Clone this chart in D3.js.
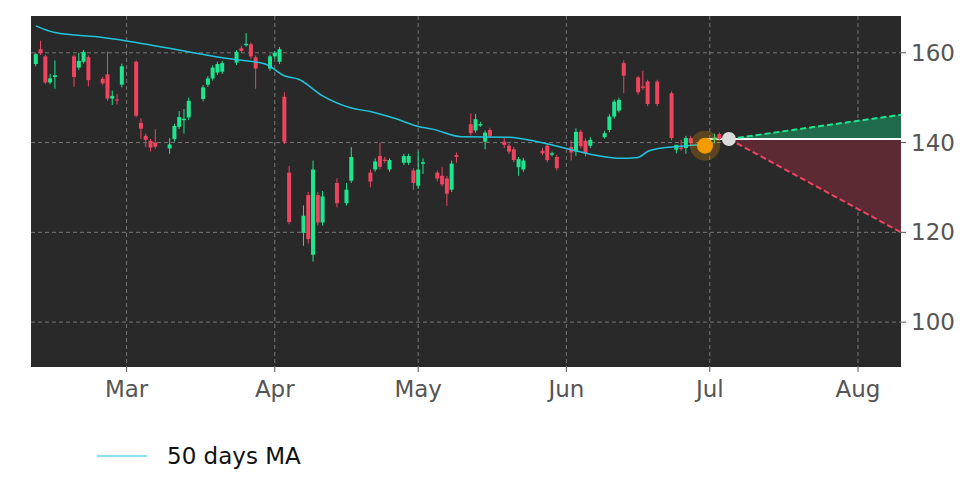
<!DOCTYPE html>
<html>
<head>
<meta charset="utf-8">
<script src="https://cdn.jsdelivr.net/npm/d3@7"></script>
<style>
  body { margin: 0; background: #fff; }
  text { font-family: "DejaVu Sans", sans-serif; }
</style>
</head>
<body>
<svg id="chart" width="972" height="486"></svg>
<script>
//candle data//
var dates = ["2022-02-10","2022-02-11","2022-02-12","2022-02-13","2022-02-14","2022-02-18","2022-02-19","2022-02-20","2022-02-21",
  "2022-02-24","2022-02-25","2022-02-26","2022-02-27","2022-02-28","2022-03-03","2022-03-04","2022-03-05","2022-03-06","2022-03-07",
  "2022-03-10","2022-03-11","2022-03-12","2022-03-13","2022-03-14","2022-03-17","2022-03-18","2022-03-19","2022-03-20","2022-03-21",
  "2022-03-24","2022-03-25","2022-03-26","2022-03-27","2022-03-28","2022-03-31","2022-04-01","2022-04-02","2022-04-03","2022-04-04",
  "2022-04-07","2022-04-08","2022-04-09","2022-04-10","2022-04-11","2022-04-14","2022-04-16","2022-04-17",
  "2022-04-21","2022-04-22","2022-04-23","2022-04-24","2022-04-25","2022-04-28","2022-04-29","2022-04-30","2022-05-01","2022-05-02",
  "2022-05-05","2022-05-06","2022-05-07","2022-05-08","2022-05-09","2022-05-12","2022-05-13","2022-05-14","2022-05-15","2022-05-16",
  "2022-05-19","2022-05-20","2022-05-21","2022-05-22","2022-05-23","2022-05-27","2022-05-28","2022-05-29","2022-05-30",
  "2022-06-02","2022-06-03","2022-06-04","2022-06-05","2022-06-06","2022-06-09","2022-06-10","2022-06-11","2022-06-12","2022-06-13",
  "2022-06-16","2022-06-17","2022-06-18","2022-06-20","2022-06-23","2022-06-24","2022-06-25","2022-06-26","2022-06-27",
  "2022-06-30","2022-07-02","2022-07-03"];
var opens = [157.5,160.8,159.2,153.4,154.6,159.2,156.7,158.0,159.0,
  154.2,155.2,149.8,149.6,152.9,158.0,144.4,141.5,140.4,140.0,
  138.7,140.8,143.5,145.0,145.6,149.7,152.9,154.3,155.6,155.8,
  157.8,161.0,161.7,161.9,159.0,156.5,159.2,158.0,150.2,133.3,
  119.9,128.3,115.0,128.3,122.2,131.0,126.5,131.5,
  133.3,134.0,137.0,136.2,134.0,135.5,135.5,133.8,130.4,135.3,
  133.3,132.6,132.0,129.5,137.2,144.1,142.7,143.8,140.2,142.8,
  140.2,139.3,138.5,134.5,134.0,138.2,139.3,137.3,136.8,
  139.0,138.0,142.4,140.4,139.3,141.2,142.8,145.8,147.1,157.7,
  154.5,152.5,153.6,153.6,151.0,138.4,138.9,138.8,141.0,
  138.8,140.6,141.9];
var closes = [159.7,159.9,153.4,154.3,155.0,154.6,158.2,160.2,153.9,
  153.2,149.8,150.4,149.4,157.0,146.0,143.1,140.6,138.9,139.1,
  139.6,143.7,145.7,145.3,149.3,152.3,154.3,156.7,157.5,157.7,
  160.2,160.4,162.0,159.2,156.5,159.2,160.0,160.8,140.2,122.3,
  123.7,118.5,134.0,122.2,128.0,126.5,129.5,136.8,
  131.3,135.8,134.6,135.9,136.1,137.0,137.0,131.0,134.0,135.6,
  132.0,130.7,128.6,135.3,136.8,142.1,145.2,144.1,142.2,141.5,
  139.5,138.0,136.1,136.3,136.0,137.6,136.1,137.6,134.3,
  137.8,142.4,139.2,137.5,140.6,142.1,145.8,149.1,149.5,154.9,
  151.2,152.2,148.6,148.6,141.0,139.5,138.6,141.0,139.9,
  139.6,141.1,140.8];
var highs = [160.0,162.7,159.6,155.3,158.3,159.6,160.0,160.6,159.4,
  154.6,160.3,151.6,150.8,157.6,158.3,145.4,142.0,140.8,143.0,
  141.0,144.2,147.0,147.5,150.0,152.8,154.8,157.2,158.0,158.2,
  160.6,161.6,164.4,162.3,159.4,159.6,160.4,161.3,151.2,134.8,
  126.0,129.0,136.0,129.0,129.2,132.0,131.0,139.0,
  134.0,136.5,140.0,136.8,136.5,137.5,137.5,134.3,138.0,136.5,
  133.8,134.5,132.6,136.0,137.8,146.5,146.4,144.6,142.7,143.3,
  141.0,139.8,139.0,136.8,136.6,138.8,139.9,138.0,137.3,
  140.5,143.2,142.9,140.9,141.2,142.6,146.3,149.6,150.0,158.3,
  154.9,156.0,154.0,154.0,151.4,139.5,140.6,141.5,141.5,
  141.0,142.0,142.3];
var lows = [157.0,159.5,153.0,153.0,152.0,152.4,156.2,157.6,152.5,
  152.8,149.3,148.4,148.5,152.3,145.6,140.8,139.0,138.0,138.6,
  137.5,140.2,143.0,142.0,145.0,149.2,152.4,153.8,155.1,155.3,
  157.3,160.0,161.4,158.7,152.0,156.0,158.7,157.5,139.7,121.8,
  117.0,117.5,113.5,121.5,121.5,125.6,126.0,131.0,
  130.0,133.5,134.0,135.5,133.5,135.0,135.0,129.5,129.7,133.0,
  131.4,130.2,125.9,129.0,135.5,141.6,142.2,143.5,138.5,141.0,
  138.8,137.4,135.6,132.6,133.5,137.2,135.6,136.9,133.8,
  136.0,137.0,138.7,136.9,138.8,140.9,142.3,145.3,146.7,151.0,
  150.7,151.7,148.1,148.1,140.5,137.6,138.2,137.5,139.4,
  138.2,139.8,140.3];

//50 days moving average//
var maDates = ["2022-02-10","2022-02-14","2022-02-24","2022-03-03","2022-03-13","2022-03-23","2022-03-30","2022-04-03",
  "2022-04-06","2022-04-11","2022-04-17","2022-04-21","2022-04-26","2022-05-01","2022-05-04","2022-05-10","2022-05-20",
  "2022-05-26","2022-06-01","2022-06-08","2022-06-12","2022-06-16","2022-06-18","2022-06-21","2022-06-24","2022-06-29"];
var maValues = [166.0,164.5,163.4,162.3,160.4,158.6,157.5,154.9,154.1,150.4,147.7,146.9,145.4,143.6,143.0,141.3,141.2,
  140.2,138.7,137.0,136.5,136.7,138.0,138.8,139.1,139.5];

//last close, forecast start and the two targets//
var lastDate = "2022-06-30", lastValue = 139.3;
var startDate = "2022-07-05", startValue = 140.8;
var endDate = "2022-08-10", upValue = 146.2, downValue = 120.0;

var yTicks = [100, 120, 140, 160];
var monthTicks = ["2022-03-01","2022-04-01","2022-05-01","2022-06-01","2022-07-01","2022-08-01"];
var monthLabels = ["Mar","Apr","May","Jun","Jul","Aug"];

var parse = d3.timeParse("%Y-%m-%d");
var pLeft = 31, pRight = 901, pTop = 16, pBottom = 367;
var green = "#1ee68e", red = "#ef4460";

var x = d3.scaleTime()
  .domain([parse("2022-02-09"), parse("2022-08-10")])
  .range([pLeft, pRight]);
var y = d3.scaleLinear().domain([90, 168.2]).range([pBottom, pTop]);

var svg = d3.select("#chart");

svg.append("rect")
  .attr("x", pLeft).attr("y", pTop)
  .attr("width", pRight - pLeft).attr("height", pBottom - pTop)
  .attr("fill", "#292929");

//grid//
svg.selectAll(".hgrid").data(yTicks).enter().append("line")
  .attr("x1", pLeft).attr("x2", pRight)
  .attr("y1", function(d) { return y(d); }).attr("y2", function(d) { return y(d); })
  .attr("stroke", "#8a8a8a").attr("stroke-width", 0.8).attr("stroke-dasharray", "4,3");
svg.selectAll(".vgrid").data(monthTicks).enter().append("line")
  .attr("y1", pTop).attr("y2", pBottom)
  .attr("x1", function(d) { return x(parse(d)); }).attr("x2", function(d) { return x(parse(d)); })
  .attr("stroke", "#8a8a8a").attr("stroke-width", 0.8).attr("stroke-dasharray", "4,3");

//axes labels//
svg.selectAll(".ylab").data(yTicks).enter().append("text")
  .attr("x", 911).attr("y", function(d) { return y(d) + 8; })
  .attr("font-size", "23px").attr("fill", "#555")
  .text(function(d) { return d; });
svg.selectAll(".ytick").data(yTicks).enter().append("line")
  .attr("x1", pRight).attr("x2", pRight + 5)
  .attr("y1", function(d) { return y(d); }).attr("y2", function(d) { return y(d); })
  .attr("stroke", "#555");
svg.selectAll(".xlab").data(monthTicks).enter().append("text")
  .attr("x", function(d) { return x(parse(d)); }).attr("y", 397)
  .attr("text-anchor", "middle").attr("font-size", "23px").attr("fill", "#555")
  .text(function(d, i) { return monthLabels[i]; });
svg.selectAll(".xtick").data(monthTicks).enter().append("line")
  .attr("y1", pBottom).attr("y2", pBottom + 5)
  .attr("x1", function(d) { return x(parse(d)); }).attr("x2", function(d) { return x(parse(d)); })
  .attr("stroke", "#555");

//forecast areas//
var x0 = x(parse(startDate)), x1 = x(parse(endDate));
svg.append("path")
  .attr("d", "M" + x0 + "," + y(startValue) + "L" + x1 + "," + y(upValue) + "L" + x1 + "," + y(startValue) + "Z")
  .attr("fill", "#1f6b4c");
svg.append("path")
  .attr("d", "M" + x0 + "," + y(startValue) + "L" + x1 + "," + y(downValue) + "L" + x1 + "," + y(startValue) + "Z")
  .attr("fill", "#5c2a33");
svg.append("line")
  .attr("x1", x(parse(lastDate))).attr("x2", x1)
  .attr("y1", y(startValue)).attr("y2", y(startValue))
  .attr("stroke", "#fff").attr("stroke-width", 2);
svg.append("line")
  .attr("x1", x0).attr("x2", x1).attr("y1", y(startValue)).attr("y2", y(upValue))
  .attr("stroke", green).attr("stroke-width", 2).attr("stroke-dasharray", "6,3");
svg.append("line")
  .attr("x1", x0).attr("x2", x1).attr("y1", y(startValue)).attr("y2", y(downValue))
  .attr("stroke", red).attr("stroke-width", 2).attr("stroke-dasharray", "6,3");

//candles//
var candles = dates.map(function(d, i) {
  return {date: parse(d), o: opens[i], c: closes[i], h: highs[i], l: lows[i]};
});
var bw = 4;
svg.selectAll(".wick").data(candles).enter().append("line")
  .attr("x1", function(d) { return x(d.date); }).attr("x2", function(d) { return x(d.date); })
  .attr("y1", function(d) { return y(d.h); }).attr("y2", function(d) { return y(d.l); })
  .attr("stroke", function(d) { return d.c >= d.o ? green : red; }).attr("stroke-width", 1);
svg.selectAll(".body").data(candles).enter().append("rect")
  .attr("x", function(d) { return x(d.date) - bw / 2; })
  .attr("width", bw)
  .attr("y", function(d) { return y(Math.max(d.o, d.c)); })
  .attr("height", function(d) { return Math.max(1, Math.abs(y(d.o) - y(d.c))); })
  .attr("fill", function(d) { return d.c >= d.o ? green : red; });

//moving average//
var line = d3.line()
  .x(function(d) { return x(parse(d[0])); })
  .y(function(d) { return y(d[1]); })
  .curve(d3.curveMonotoneX);
svg.append("path")
  .datum(maDates.map(function(d, i) { return [d, maValues[i]]; }))
  .attr("d", line).attr("fill", "none")
  .attr("stroke", "#22c4dc").attr("stroke-width", 1.5);

//markers//
svg.append("circle").attr("cx", x(parse(lastDate))).attr("cy", y(lastValue))
  .attr("r", 15).attr("fill", "#f59b00").attr("fill-opacity", 0.25);
svg.append("circle").attr("cx", x(parse(lastDate))).attr("cy", y(lastValue))
  .attr("r", 8).attr("fill", "#f59b00");
svg.append("circle").attr("cx", x0).attr("cy", y(startValue))
  .attr("r", 7).attr("fill", "#dcdcdc");

//legend//
svg.append("line").attr("x1", 97).attr("x2", 147).attr("y1", 456).attr("y2", 456)
  .attr("stroke", "#22c4dc").attr("stroke-width", 1.2);
svg.append("text").attr("x", 167).attr("y", 464)
  .attr("font-size", "23px").attr("fill", "#111").text("50 days MA");
</script>
</body>
</html>
